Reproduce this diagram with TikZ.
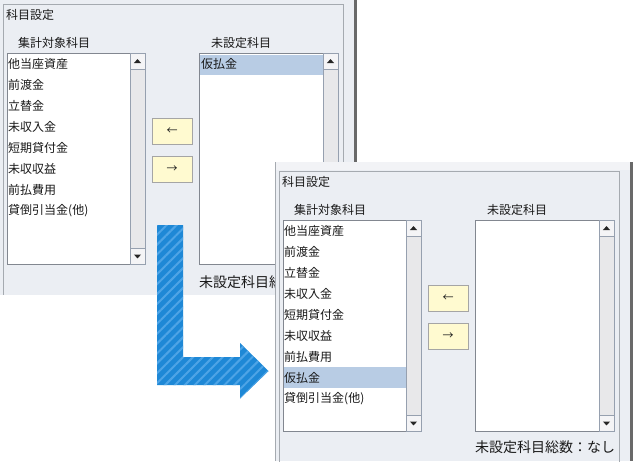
\documentclass[tikz,border=0pt]{standalone}
\usepackage{fontspec}
\newfontfamily\jp{Noto Sans CJK JP}
\usetikzlibrary{patterns.meta}
\definecolor{winbg}{RGB}{235,238,243}
\definecolor{winlight}{RGB}{242,243,246}
\definecolor{listborder}{RGB}{130,135,144}
\definecolor{grpline}{RGB}{165,170,176}
\definecolor{sbtrack}{RGB}{232,232,234}
\definecolor{sbbtn}{RGB}{244,244,246}
\definecolor{sbline}{RGB}{150,160,175}
\definecolor{selbg}{RGB}{184,204,228}
\definecolor{btnfill}{RGB}{255,250,208}
\definecolor{btnline}{RGB}{165,165,165}
\definecolor{winedge}{RGB}{105,105,105}
\definecolor{arrowblue}{RGB}{30,136,214}
\definecolor{stripeblue}{RGB}{78,164,230}
\definecolor{txt}{RGB}{25,25,25}
\tikzset{
  uitext/.style={inner sep=0pt, anchor=west, text=txt, font=\jp\fontsize{12}{14}\selectfont},
  bigtext/.style={inner sep=0pt, anchor=west, text=txt, font=\jp\fontsize{14}{16}\selectfont},
  listbox/.style={draw=listborder, fill=white, line width=1pt},
  btnbox/.style={draw=btnline, fill=btnfill, line width=1pt, minimum width=40pt, minimum height=26pt, inner sep=0pt, text=txt, font=\jp\fontsize{11}{13}\selectfont},
  selbox/.style={fill=selbg},
}
\newcommand\uiscroll[3]{%
  \filldraw[fill=sbtrack, draw=sbline, line width=0.8pt] (#1,#2) rectangle (#1+15,#3);
  \filldraw[fill=sbbtn, draw=sbline, line width=0.8pt] (#1,#2) rectangle (#1+15,#2+16);
  \filldraw[fill=sbbtn, draw=sbline, line width=0.8pt] (#1,#3-16) rectangle (#1+15,#3);
  \fill[black!85] (#1+3.8,#2+10) -- (#1+11.2,#2+10) -- (#1+7.5,#2+6.2) -- cycle;
  \fill[black!85] (#1+3.8,#3-9.5) -- (#1+11.2,#3-9.5) -- (#1+7.5,#3-5.7) -- cycle;
}
\newcommand\uiframe{%
  \draw[grpline, line width=1pt] (3.5,300) -- (3.5,4) -- (343,4) -- (343,300);
  \node[uitext] (title) at (6,15) {科目設定};
  \node[uitext] (lefthead) at (18,43) {集計対象科目};
  \node[uitext] (righthead) at (211,43) {未設定科目};
  \draw[listbox] (7,53) rectangle (145,264);
  \uiscroll{130}{53}{264}
  \draw[listbox] (199,53) rectangle (338,264);
  \uiscroll{323}{53}{264}
  \node[btnbox] (toleft) at (172,131) {←};
  \node[btnbox] (toright) at (172,169) {→};
}
\begin{document}
\begin{tikzpicture}[x=1pt,y=-1pt]
\useasboundingbox (0,0) rectangle (634,461);
\fill[white] (0,0) rectangle (634,461);
% window 1
\begin{scope}[name prefix=a-]
  \fill[winbg] (0,0) rectangle (355,294.5);
  \draw[winedge, line width=2.5pt] (355.5,0) -- (355.5,294.5);
  \begin{scope}
    \clip (0,0) rectangle (355,294.5);
    \uiframe
  \end{scope}
  \node[uitext] (i1) at (8,64) {他当座資産};
  \node[uitext] (i2) at (8,85) {前渡金};
  \node[uitext] (i3) at (8,106) {立替金};
  \node[uitext] (i4) at (8,127) {未収入金};
  \node[uitext] (i5) at (8,148) {短期貸付金};
  \node[uitext] (i6) at (8,169) {未収収益};
  \node[uitext] (i7) at (8,190) {前払費用};
  \node[uitext] (i8) at (8,211) {貸倒引当金(他)};
  \fill[selbox] (200,54.5) rectangle (322.5,75);
  \node[uitext] (r1) at (201,64) {仮払金};
  \begin{scope}
    \clip (190,270) rectangle (275,294);
    \node[bigtext] (count) at (199,282) {未設定科目総};
  \end{scope}
\end{scope}
% window 2
\begin{scope}[shift={(276,167)}, name prefix=b-]
  \fill[winlight] (-1,-5) rectangle (355,294);
  \fill[winbg] (-1,3) rectangle (355,294);
  \draw[grpline, line width=1pt] (-1,294) -- (-1,-5);
  \draw[winedge, line width=2.5pt] (355.5,-5) -- (355.5,294);
  \uiframe
  \node[uitext] (i1) at (8,64) {他当座資産};
  \node[uitext] (i2) at (8,85) {前渡金};
  \node[uitext] (i3) at (8,106) {立替金};
  \node[uitext] (i4) at (8,127) {未収入金};
  \node[uitext] (i5) at (8,148) {短期貸付金};
  \node[uitext] (i6) at (8,169) {未収収益};
  \node[uitext] (i7) at (8,190) {前払費用};
  \fill[selbox] (7.5,200) rectangle (129.5,221);
  \node[uitext] (i8) at (8,211) {仮払金};
  \node[uitext] (i9) at (8,232) {貸倒引当金(他)};
  \node[bigtext] (count) at (199,280) {未設定科目総数：なし};
\end{scope}
% blue L-arrow
\fill[arrowblue] (157,225) -- (183,225) -- (183,357) -- (240,357) -- (240,343) -- (268.5,371) -- (240,398.5) -- (240,385) -- (157,385) -- cycle;
\fill[pattern={Lines[angle=45,distance=7pt,line width=2pt]}, pattern color=stripeblue] (157,225) -- (183,225) -- (183,357) -- (240,357) -- (240,343) -- (268.5,371) -- (240,398.5) -- (240,385) -- (157,385) -- cycle;
\end{tikzpicture}
\end{document}
